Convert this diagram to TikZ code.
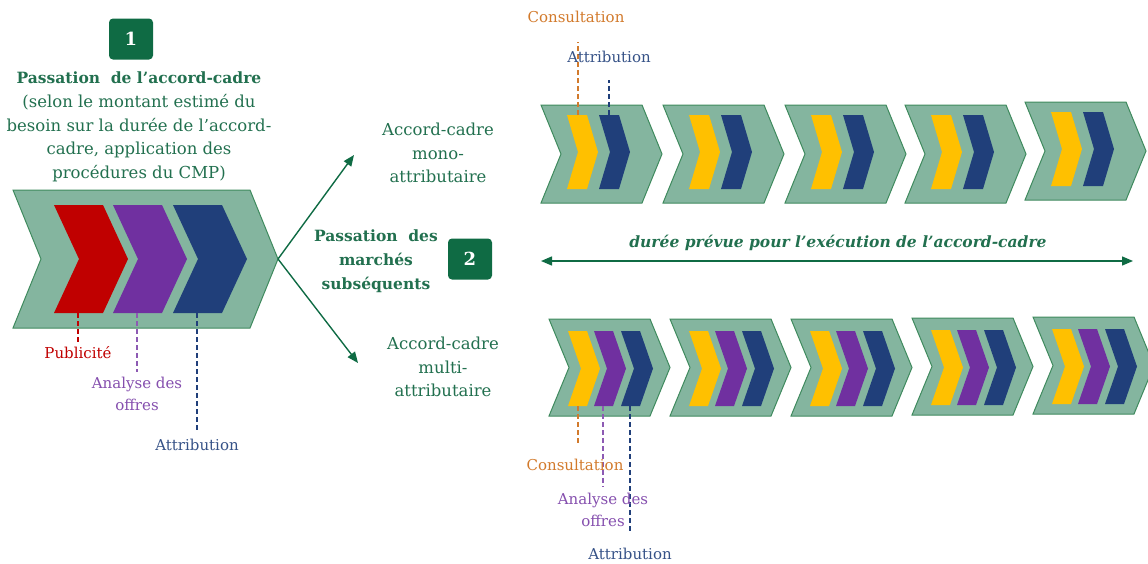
\documentclass[tikz,border=0pt]{standalone}
\usepackage{fontspec}
\setmainfont{DejaVu Serif}
\usetikzlibrary{arrows.meta}

\definecolor{sage}{HTML}{84B59F}
\definecolor{sageline}{HTML}{3F8A5E}
\definecolor{darkgreen}{HTML}{0F6B44}
\definecolor{titlegreen}{HTML}{22704F}
\definecolor{pubred}{HTML}{C00000}
\definecolor{anapurple}{HTML}{7030A0}
\definecolor{attnavy}{HTML}{203F7A}
\definecolor{consyellow}{HTML}{FFC000}
\definecolor{consorange}{HTML}{D27A2C}

% chevron: style, x, y (top left), width, height, depth of the point
\newcommand{\chevshape}[6]{%
    \path[#1] (#2,#3) -- ++(#4,0) -- ++(#6,#5/2) -- ++(-#6,#5/2)
        -- ++(-#4,0) -- ++(#6,-#5/2) -- cycle;}

\begin{document}
\begin{tikzpicture}[x=1pt, y=-1pt,
        outer/.style={fill=sage, draw=sageline, line width=1pt},
        tag/.style={fill=darkgreen, rounded corners=4pt, minimum width=44pt,
            minimum height=41pt, text=white, font={\fontsize{18}{20}\selectfont\bfseries}},
        txt/.style={align=center, text=titlegreen, font={\fontsize{16.5}{23.7}\selectfont}},
        bold/.style={align=center, text=titlegreen, font={\fontsize{15.5}{24}\selectfont\bfseries}},
        lbl/.style={align=center, inner sep=1pt, font={\fontsize{15}{22}\selectfont}},
        dline/.style={dash pattern=on 5pt off 3pt, line width=1.1pt},
        arr/.style={draw=darkgreen, line width=1.4pt, -{Triangle[length=11pt,width=9pt]}},
        dblarr/.style={draw=darkgreen, line width=1.4pt,
            {Triangle[length=11pt,width=9pt]}-{Triangle[length=11pt,width=9pt]}}]
    \useasboundingbox (0,0) rectangle (1148,563);

    % passation de l'accord-cadre
    \node[tag] (badge1) at (131,39) {1};
    \node[txt] (title1) at (139,127)
        {{\bfseries\fontsize{15.5}{23.7}\selectfont Passation\ \ de l’accord-cadre}\\
         (selon le montant estimé du\\besoin sur la durée de l’accord-\\
         cadre, application des\\procédures du CMP)};

    \chevshape{outer}{13}{190}{237}{138}{28}
    \chevshape{fill=pubred}{54}{205}{49}{108}{25}
    \chevshape{fill=anapurple}{113}{205}{49}{108}{25}
    \chevshape{fill=attnavy}{173}{205}{49}{108}{25}

    \coordinate (pubA) at (78,313);
    \coordinate (pubB) at (78,342);
    \coordinate (anaA) at (137,313);
    \coordinate (anaB) at (137,372);
    \coordinate (attA) at (197,313);
    \coordinate (attB) at (197,432);
    \draw[dline, pubred] (pubA) -- (pubB);
    \draw[dline, anapurple!80] (anaA) -- (anaB);
    \draw[dline, attnavy] (attA) -- (attB);
    \node[lbl, text=pubred] (pub) at (78,353) {Publicité};
    \node[lbl, text=anapurple!85] (ana) at (137,394) {Analyse des\\offres};
    \node[lbl, text=attnavy!90] (att) at (197,445) {Attribution};

    % marches subsequents
    \coordinate (bigtip) at (278,259);
    \coordinate (monoend) at (354,155);
    \coordinate (multiend) at (358,363);
    \draw[arr] (bigtip) -- (monoend);
    \draw[arr] (bigtip) -- (multiend);

    \node[txt] (mono) at (438,153) {Accord-cadre\\mono-\\attributaire};
    \node[bold] (title2) at (376,261) {Passation\ \ des\\marchés\\subséquents};
    \node[tag] (badge2) at (470,259) {2};
    \node[txt] (multi) at (443,367) {Accord-cadre\\multi-\\attributaire};

    % mono-attributaire
    \foreach \x/\y in {541/105, 663/105, 785/105, 905/105, 1025/102} {
        \chevshape{outer}{\x}{\y}{101}{98}{20}
        \chevshape{fill=consyellow}{\x+26}{\y+10}{20}{74}{11}
        \chevshape{fill=attnavy}{\x+58}{\y+10}{20}{74}{11}
    }
    \coordinate (tconsA) at (578,115);
    \coordinate (tconsB) at (578,42);
    \coordinate (tattA) at (609,115);
    \coordinate (tattB) at (609,80);
    \draw[dline, consorange] (tconsA) -- (tconsB);
    \draw[dline, attnavy] (tattA) -- (tattB);
    \node[lbl, text=consorange] (tcons) at (576,17) {Consultation};
    \node[lbl, text=attnavy!90] (tatt) at (609,57) {Attribution};

    % duree
    \coordinate (durA) at (541,261);
    \coordinate (durB) at (1133,261);
    \draw[dblarr] (durA) -- (durB);
    \node[bold, font={\fontsize{15.5}{20}\selectfont\bfseries\itshape}] (duree) at (838,243)
        {durée prévue pour l’exécution de l’accord-cadre};

    % multi-attributaire
    \foreach \x/\y in {549/319, 670/319, 791/319, 912/318, 1033/317} {
        \chevshape{outer}{\x}{\y}{101}{97}{20}
        \chevshape{fill=consyellow}{\x+19}{\y+12}{19}{75}{13}
        \chevshape{fill=anapurple}{\x+45}{\y+12}{19}{75}{13}
        \chevshape{fill=attnavy}{\x+72}{\y+12}{19}{75}{13}
    }
    \coordinate (bconsA) at (578,406);
    \coordinate (bconsB) at (578,443);
    \coordinate (banaA) at (603,406);
    \coordinate (banaB) at (603,487);
    \coordinate (battA) at (630,406);
    \coordinate (battB) at (630,532);
    \draw[dline, consorange] (bconsA) -- (bconsB);
    \draw[dline, anapurple!80] (banaA) -- (banaB);
    \draw[dline, attnavy] (battA) -- (battB);
    \node[lbl, text=consorange] (bcons) at (575,465) {Consultation};
    \node[lbl, text=anapurple!85] (bana) at (603,510) {Analyse des\\offres};
    \node[lbl, text=attnavy!90] (batt) at (630,554) {Attribution};
\end{tikzpicture}
\end{document}
